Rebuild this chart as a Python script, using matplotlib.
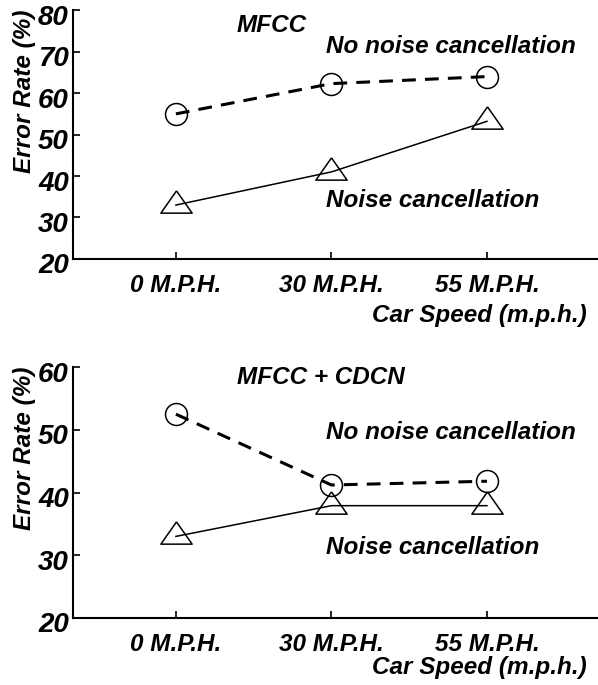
import matplotlib
matplotlib.use("Agg")
import matplotlib.pyplot as plt
import matplotlib.transforms as mtransforms
import numpy as np

plt.rcParams['font.family'] = ['Liberation Sans', 'DejaVu Sans']
plt.rcParams['font.weight'] = 'bold'
plt.rcParams['font.style'] = 'italic'
plt.rcParams['axes.labelweight'] = 'bold'

# data
speeds = ["0 M.P.H.", "30 M.P.H.", "55 M.P.H."]
mfcc_no_nc = [55, 62.3, 64]
mfcc_nc = [33, 41, 53.2]
cdcn_no_nc = [52.5, 41.2, 41.8]
cdcn_nc = [33, 37.9, 37.9]

panels = [
    dict(title="MFCC", no_nc=mfcc_no_nc, nc=mfcc_nc, ylim=(20, 80),
         rect=[0.122, 0.622, 0.878, 0.363],
         title_y=76.4, no_y=71.3, nc_y=34.2, xl_y=-0.229),
    dict(title="MFCC + CDCN", no_nc=cdcn_no_nc, nc=cdcn_nc, ylim=(20, 60),
         rect=[0.122, 0.098, 0.878, 0.366],
         title_y=58.3, no_y=49.5, nc_y=31.3, xl_y=-0.197),
]

# triangle marker with the data point sitting low inside it
tri = [(0, 44), (-47, -23), (47, -23), (0, 44)]

fig = plt.figure(figsize=(5.98, 6.85), dpi=100)
x = np.arange(len(speeds))
shift = mtransforms.ScaledTranslation(0, -0.045, fig.dpi_scale_trans)

for p in panels:
    ax = fig.add_axes(p["rect"])
    ax.plot(x, p["no_nc"], color='black', lw=2.2, dashes=(4.5, 3),
            marker='o', ms=15.8, mfc='none', mec='black', mew=1.1)
    ax.plot(x, p["nc"], color='black', lw=1.1,
            marker=tri, ms=22.5, mfc='none', mec='black', mew=1.1)

    ax.set_xlim(-0.662, 2.714)
    ax.set_ylim(*p["ylim"])
    ax.set_xticks(x)
    ax.set_xticklabels(speeds, fontsize=17.5)
    ax.set_yticks(np.arange(p["ylim"][0], p["ylim"][1] + 1, 10))
    ax.tick_params(axis='y', direction='in', length=5, width=1.2, labelsize=20, pad=3)
    ax.tick_params(axis='x', direction='in', length=5, width=1.2, pad=11)
    for lab in ax.get_yticklabels():
        lab.set_transform(lab.get_transform() + shift)

    for s in ['top', 'right']:
        ax.spines[s].set_visible(False)
    for s in ['left', 'bottom']:
        ax.spines[s].set_linewidth(1.5)

    ax.set_ylabel("Error Rate (%)", fontsize=17.5, ha='center', va='center')
    ax.yaxis.set_label_coords(-0.093, 0.675)
    ax.set_xlabel("Car Speed (m.p.h.)", fontsize=17.5, ha='right', va='center')
    ax.xaxis.set_label_coords(0.979, p["xl_y"])

    ax.text(0.39, p["title_y"], p["title"], fontsize=17.5, va='center', ha='left')
    ax.text(0.965, p["no_y"], "No noise cancellation", fontsize=17.5, va='center', ha='left')
    ax.text(0.965, p["nc_y"], "Noise cancellation", fontsize=17.5, va='center', ha='left')

fig.savefig("out.png", dpi=100)
